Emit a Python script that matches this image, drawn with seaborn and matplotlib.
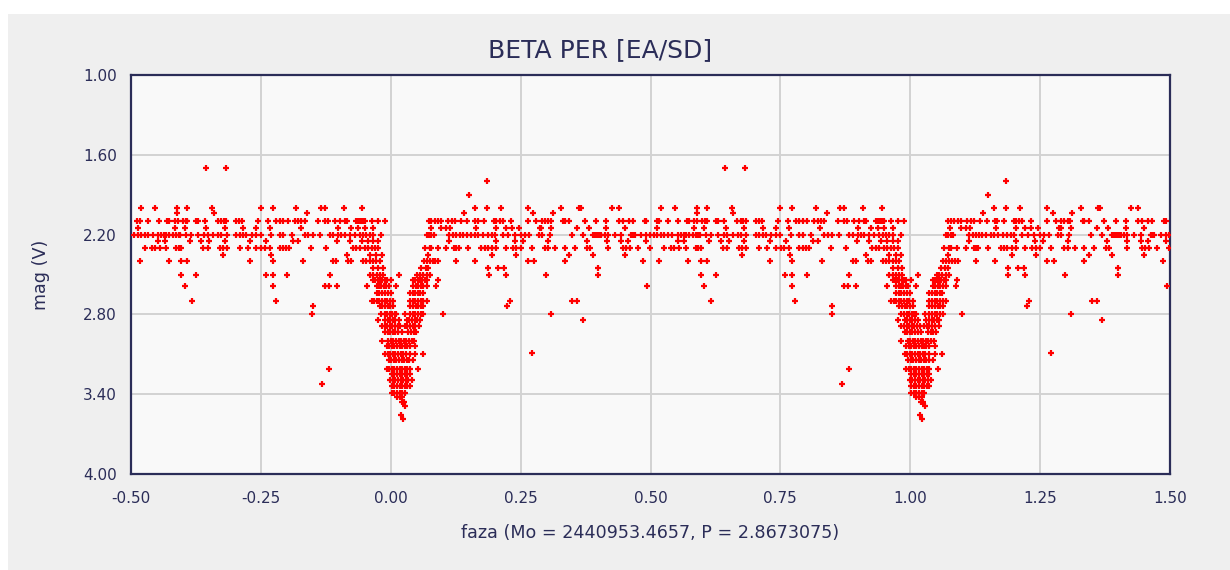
import matplotlib
matplotlib.use("Agg")
import matplotlib.pyplot as plt
from matplotlib.patches import Rectangle
from matplotlib.ticker import FixedLocator, FormatStrFormatter
import seaborn as sns
import pandas as pd

# ---- data: phases (read over -0.5..0.5) for each magnitude level ----
m170 = [-0.356, -0.318]
m180 = [0.185]
m190 = [0.150]
m200 = [-0.480, -0.453, -0.411, -0.392, -0.344, -0.250, -0.227, -0.182, -0.135, -0.127,
        -0.090, -0.055, 0.162, 0.185, 0.212, 0.264, 0.328, 0.362, 0.366, 0.425, 0.439]
m204 = [-0.411, -0.341, -0.161, 0.141, 0.274, 0.312]
m210 = [-0.488, -0.483, -0.467, -0.447, -0.430, -0.426, -0.416, -0.410, -0.400, -0.395,
        -0.392, -0.374, -0.371, -0.358, -0.333, -0.326, -0.321, -0.317, -0.297, -0.292,
        -0.286, -0.255, -0.236, -0.220, -0.214, -0.207, -0.198, -0.185, -0.178, -0.172,
        -0.166, -0.140, -0.127, -0.121, -0.108, -0.098, -0.089, -0.085, -0.066, -0.063,
        -0.060, -0.057, -0.053, -0.050, -0.037, -0.024, -0.012, 0.073, 0.078, 0.085,
        0.091, 0.097, 0.110, 0.117, 0.123, 0.135, 0.147, 0.163, 0.167, 0.180, 0.199,
        0.203, 0.210, 0.216, 0.232, 0.264, 0.280, 0.291, 0.296, 0.303, 0.308, 0.332,
        0.335, 0.344, 0.373, 0.396, 0.415, 0.439, 0.447, 0.458, 0.466, 0.489, 0.492]
m215 = [-0.487, -0.416, -0.397, -0.355, -0.320, -0.284, -0.259, -0.233, -0.173, -0.101,
        -0.076, -0.063, -0.050, -0.034, 0.077, 0.097, 0.107, 0.115, 0.165, 0.203, 0.221,
        0.233, 0.246, 0.287, 0.290, 0.309, 0.359, 0.381, 0.415, 0.450]
m220 = [-0.494, -0.487, -0.480, -0.474, -0.467, -0.458, -0.448, -0.442, -0.436, -0.432,
        -0.426, -0.419, -0.413, -0.408, -0.405, -0.394, -0.384, -0.371, -0.359, -0.352,
        -0.342, -0.332, -0.326, -0.316, -0.297, -0.291, -0.284, -0.278, -0.268, -0.259,
        -0.250, -0.230, -0.214, -0.207, -0.191, -0.166, -0.159, -0.150, -0.137, -0.117,
        -0.111, -0.101, -0.095, -0.089, -0.079, -0.069, -0.060, -0.053, -0.047, -0.040,
        -0.034, -0.018, 0.069, 0.073, 0.078, 0.083, 0.113, 0.120, 0.126, 0.133, 0.139,
        0.146, 0.155, 0.162, 0.168, 0.178, 0.187, 0.194, 0.200, 0.216, 0.226, 0.239,
        0.250, 0.258, 0.267, 0.285, 0.291, 0.306, 0.348, 0.370, 0.389, 0.393, 0.396,
        0.399, 0.402, 0.405, 0.412, 0.418, 0.431, 0.444, 0.463, 0.466, 0.470, 0.482,
        0.492, 0.499]
m225 = [-0.448, -0.435, -0.387, -0.365, -0.349, -0.320, -0.270, -0.240, -0.188, -0.178,
        -0.103, -0.079, -0.056, -0.044, -0.034, -0.024, 0.113, 0.203, 0.240, 0.255,
        0.303, 0.378, 0.417, 0.444, 0.457, 0.492]
m230 = [-0.474, -0.460, -0.454, -0.445, -0.432, -0.413, -0.408, -0.403, -0.361, -0.352,
        -0.329, -0.323, -0.316, -0.291, -0.275, -0.259, -0.249, -0.243, -0.233, -0.214,
        -0.207, -0.201, -0.195, -0.153, -0.124, -0.073, -0.066, -0.060, -0.050, -0.044,
        -0.037, -0.031, -0.024, 0.065, 0.075, 0.078, 0.090, 0.107, 0.122, 0.126, 0.131,
        0.149, 0.174, 0.181, 0.187, 0.195, 0.203, 0.221, 0.235, 0.242, 0.250, 0.271,
        0.296, 0.303, 0.317, 0.335, 0.354, 0.377, 0.383, 0.418, 0.447, 0.452, 0.460,
        0.475, 0.499]
m235 = [-0.323, -0.231, -0.085, -0.040, -0.028, -0.017, 0.072, 0.195, 0.242, 0.344,
        0.389, 0.450]
m240 = [-0.483, -0.427, -0.403, -0.392, -0.270, -0.227, -0.169, -0.111, -0.105, -0.082,
        -0.076, -0.053, -0.047, -0.040, -0.034, -0.028, -0.021, 0.064, 0.069, 0.075,
        0.081, 0.086, 0.091, 0.126, 0.163, 0.264, 0.276, 0.335, 0.486]
m245 = [-0.034, -0.024, -0.015, 0.059, 0.067, 0.072, 0.188, 0.207, 0.218, 0.399]
m250 = [-0.403, -0.374, -0.241, -0.227, -0.199, -0.117, -0.040, -0.034, -0.027, -0.021,
        -0.015, 0.015, 0.051, 0.056, 0.062, 0.069, 0.075, 0.189, 0.221, 0.298, 0.399]
m254 = [-0.034, -0.030, -0.025, -0.021, -0.016, -0.012, -0.008, 0.001, 0.043, 0.047,
        0.052, 0.056, 0.060, 0.065, 0.069, 0.090]
m259 = [-0.397, -0.227, -0.127, -0.119, -0.104, -0.045, -0.027, -0.022, -0.018, -0.013,
        -0.009, -0.004, 0.011, 0.043, 0.048, 0.053, 0.058, 0.063, 0.069, 0.088, 0.494]
m264 = [-0.027, -0.022, -0.017, -0.012, -0.006, 0.000, 0.037, 0.042, 0.047, 0.052,
        0.057, 0.062]
m270 = [-0.383, -0.221, -0.037, -0.032, -0.027, -0.022, -0.017, -0.012, -0.007, -0.002,
        0.005, 0.037, 0.042, 0.047, 0.052, 0.058, 0.063, 0.069, 0.229, 0.349, 0.359]
m274 = [-0.150, -0.021, -0.016, -0.011, -0.006, -0.001, 0.005, 0.037, 0.042, 0.048,
        0.053, 0.058, 0.063, 0.224]
m280 = [-0.151, -0.018, -0.012, -0.007, -0.002, 0.003, 0.008, 0.011, 0.028, 0.037,
        0.042, 0.047, 0.052, 0.058, 0.063, 0.100, 0.309]
m284 = [-0.024, -0.011, -0.006, -0.001, 0.004, 0.009, 0.015, 0.031, 0.036, 0.041,
        0.046, 0.051, 0.056, 0.370]
m289 = [-0.017, -0.012, -0.007, -0.002, 0.003, 0.008, 0.013, 0.018, 0.027, 0.032,
        0.037, 0.042, 0.047, 0.055]
m293 = [-0.011, -0.006, -0.001, 0.004, 0.009, 0.014, 0.021, 0.034, 0.039, 0.044, 0.049]
m300 = [-0.017, -0.005, 0.000, 0.005, 0.010, 0.015, 0.020, 0.025, 0.030, 0.035, 0.040,
        0.045]
m304 = [-0.008, -0.003, 0.002, 0.007, 0.012, 0.017, 0.022, 0.027, 0.031, 0.037, 0.047]
m309 = [0.271]
m310 = [-0.011, -0.006, -0.001, 0.004, 0.009, 0.014, 0.019, 0.024, 0.029, 0.037, 0.047,
        0.062]
m314 = [-0.004, 0.001, 0.006, 0.011, 0.016, 0.021, 0.026, 0.031, 0.036, 0.043]
m321 = [-0.118, -0.008, -0.003, 0.002, 0.007, 0.012, 0.017, 0.022, 0.027, 0.032, 0.037,
        0.053]
m325 = [0.002, 0.007, 0.012, 0.017, 0.022, 0.027, 0.032, 0.037]
m329 = [-0.001, 0.004, 0.009, 0.014, 0.019, 0.024, 0.029, 0.034, 0.040]
m332 = [-0.132]
m334 = [0.002, 0.007, 0.012, 0.017, 0.022, 0.027, 0.032, 0.037]
m339 = [0.002, 0.007, 0.012, 0.017, 0.022, 0.027]
m342 = [0.012, 0.017, 0.022]
m346 = [0.021, 0.025]
m349 = [0.028]
m356 = [0.019]
m359 = [0.023]

levels = [(1.70, m170), (1.80, m180), (1.90, m190), (2.00, m200), (2.04, m204),
          (2.10, m210), (2.15, m215), (2.20, m220), (2.25, m225), (2.30, m230),
          (2.35, m235), (2.40, m240), (2.45, m245), (2.50, m250), (2.54, m254),
          (2.59, m259), (2.64, m264), (2.70, m270), (2.74, m274), (2.80, m280),
          (2.84, m284), (2.89, m289), (2.93, m293), (3.00, m300), (3.04, m304),
          (3.09, m309), (3.10, m310), (3.14, m314), (3.21, m321), (3.25, m325),
          (3.29, m329), (3.32, m332), (3.34, m334), (3.39, m339), (3.42, m342),
          (3.46, m346), (3.49, m349), (3.56, m356), (3.59, m359)]

x_ticks = [-0.50, -0.25, 0.00, 0.25, 0.50, 0.75, 1.00, 1.25, 1.50]
y_ticks = [1.00, 1.60, 2.20, 2.80, 3.40, 4.00]
title = "BETA PER [EA/SD]"
x_label = "faza (Mo = 2440953.4657, P = 2.8673075)"
y_label = "mag (V)"

rows = []
for mag, phases in levels:
    for p in phases:
        rows.append((p, mag))
        rows.append((p + 1.0, mag))   # phase-folded copy one cycle later
df = pd.DataFrame(rows, columns=["phase", "mag"])

# ---- drawing ----
sns.set_style("white")
plt.rcParams["font.family"] = ["DejaVu Sans"]
plt.rcParams["axes.unicode_minus"] = False
navy = "#2b2d58"
W, H = 1230, 570
fig = plt.figure(figsize=(W / 100, H / 100), dpi=100, facecolor="#efefef")
# white margins on top and left of the grey panel
fig.add_artist(Rectangle((0, (H - 14) / H), 1, 14 / H, transform=fig.transFigure,
                         facecolor="white", edgecolor="none", zorder=-5))
fig.add_artist(Rectangle((0, 0), 8 / W, 1, transform=fig.transFigure,
                         facecolor="white", edgecolor="none", zorder=-5))
ax = fig.add_axes([131 / W, (H - 474) / H, 1039 / W, 399 / H])
ax.set_facecolor("#f9f9f9")

sns.scatterplot(data=df, x="phase", y="mag", ax=ax, marker="+", color="red",
                s=24, linewidth=1.6, legend=False, zorder=3)

ax.set_xlim(-0.5, 1.5)
ax.set_ylim(4.0, 1.0)
ax.xaxis.set_major_locator(FixedLocator(x_ticks))
ax.yaxis.set_major_locator(FixedLocator(y_ticks))
ax.xaxis.set_major_formatter(FormatStrFormatter("%.2f"))
ax.yaxis.set_major_formatter(FormatStrFormatter("%.2f"))
ax.grid(True, color="#d2d2d2", linewidth=1.4, zorder=1)
ax.set_axisbelow(True)
for side, sp in ax.spines.items():
    sp.set_color(navy)
    sp.set_linewidth(1.6)
ax.tick_params(axis="both", direction="out", length=6, width=1.6, color=navy,
               labelcolor=navy, labelsize=11, pad=4)
ax.tick_params(axis="x", pad=6)
ax.set_xlabel(x_label, fontsize=12.6, color=navy, labelpad=13)
ax.set_ylabel(y_label, fontsize=12.6, color=navy, labelpad=24)
fig.text(600 / W, (H - 50) / H, title, ha="center", va="center", fontsize=18, color=navy)

fig.savefig("out.png", dpi=100, facecolor=fig.get_facecolor())
